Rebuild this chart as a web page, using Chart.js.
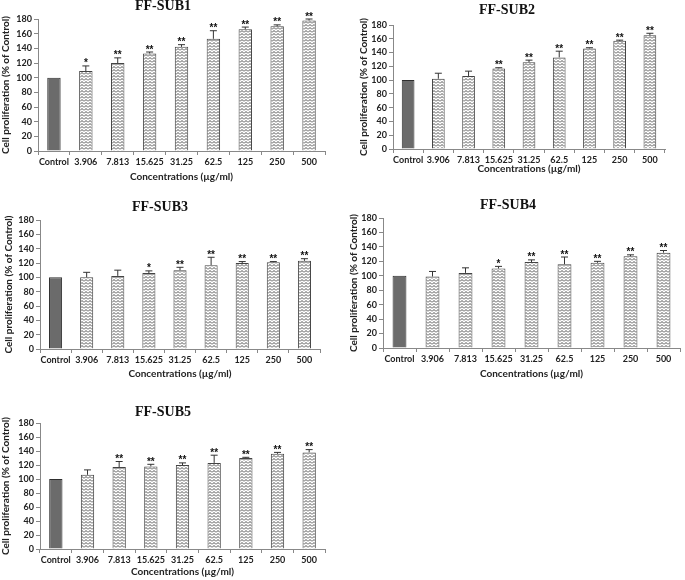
<!DOCTYPE html>
<html>
<head>
<meta charset="utf-8">
<script src="https://cdn.jsdelivr.net/npm/chart.js@4.4.1/dist/chart.umd.min.js"></script>
<style>
  body { margin: 0; background: #fff; width: 685px; height: 580px; position: relative; overflow: hidden; }
  canvas { position: absolute; }
</style>
</head>
<body>
<canvas id="sub1"></canvas>
<canvas id="sub2"></canvas>
<canvas id="sub3"></canvas>
<canvas id="sub4"></canvas>
<canvas id="sub5"></canvas>
<script>
const categories = ['Control', '3.906', '7.813', '15.625', '31.25', '62.5', '125', '250', '500'];
const yMax = 180;
const yStep = 20;

const sub1Means = [100, 109, 120, 133, 142, 153, 166, 170, 178];
const sub1Errors = [0, 7, 7, 2, 3, 11, 3, 2, 2];
const sub1Stars = ['', '*', '**', '**', '**', '**', '**', '**', '**'];

const sub2Means = [100, 102, 106, 117, 126, 133, 146, 157, 165];
const sub2Errors = [0, 8, 7, 1, 3, 9, 1, 1, 3];
const sub2Stars = ['', '', '', '**', '**', '**', '**', '**', '**'];

const sub3Means = [100, 100, 102, 106, 110, 117, 120, 121, 123];
const sub3Errors = [0, 7, 8, 3, 4, 11, 2, 1, 3];
const sub3Stars = ['', '', '', '*', '**', '**', '**', '**', '**'];

const sub4Means = [100, 99, 104, 110, 119, 116, 118, 127, 132];
const sub4Errors = [0, 7, 7, 3, 3, 10, 2, 2, 3];
const sub4Stars = ['', '', '', '*', '**', '**', '**', '**', '**'];

const sub5Means = [100, 106, 117, 118, 120, 123, 130, 136, 138];
const sub5Errors = [0, 7, 8, 3, 3, 11, 1, 2, 4];
const sub5Stars = ['', '', '**', '**', '**', '**', '**', '**', '**'];

// zigzag hatch used by the treated bars
function zigzagPattern() {
  const c = document.createElement('canvas');
  c.width = 4;
  c.height = 3;
  const g = c.getContext('2d');
  g.fillStyle = '#fff';
  g.fillRect(0, 0, 4, 3);
  g.strokeStyle = '#4e4e4e';
  g.lineWidth = 1;
  g.beginPath();
  g.moveTo(0, 2.5);
  g.lineTo(2, 0.5);
  g.lineTo(4, 2.5);
  g.stroke();
  return g.createPattern(c, 'repeat');
}

// error caps, significance stars and the serif panel title
const markers = {
  id: 'markers',
  afterDatasetsDraw(chart, args, opts) {
    const ctx = chart.ctx;
    const y = chart.scales.y;
    const values = chart.data.datasets[0].data;
    ctx.save();
    chart.getDatasetMeta(0).data.forEach((bar, i) => {
      const top = y.getPixelForValue(values[i] + opts.errors[i]);
      if (opts.errors[i] > 0) {
        ctx.strokeStyle = '#333';
        ctx.lineWidth = 1;
        ctx.beginPath();
        ctx.moveTo(bar.x, bar.y);
        ctx.lineTo(bar.x, top);
        ctx.moveTo(bar.x - 3.5, top);
        ctx.lineTo(bar.x + 3.5, top);
        ctx.stroke();
      }
      if (opts.stars[i]) {
        ctx.fillStyle = '#111';
        ctx.font = 'bold 10px "Liberation Sans"';
        ctx.textAlign = 'center';
        ctx.textBaseline = 'alphabetic';
        ctx.fillText(opts.stars[i], bar.x, top + 0.5);
      }
    });
    ctx.fillStyle = '#111';
    ctx.font = 'bold 14px "Liberation Serif"';
    ctx.textAlign = 'center';
    ctx.textBaseline = 'middle';
    ctx.fillText(opts.title, opts.titleAt[0], opts.titleAt[1]);
    ctx.restore();
  }
};

const panels = [
  { id: 'sub1', title: 'FF-SUB1', means: sub1Means, errors: sub1Errors, stars: sub1Stars,
    box: [0, 0, 335, 185], pad: { left: 0, top: 19, right: 10, bottom: 0 }, yWidth: 38, xHeight: 34, titleAt: [163, 6] },
  { id: 'sub2', title: 'FF-SUB2', means: sub2Means, errors: sub2Errors, stars: sub2Stars,
    box: [340, 0, 345, 177], pad: { left: 18, top: 25, right: 20, bottom: 0 }, yWidth: 35, xHeight: 28, titleAt: [167, 10] },
  { id: 'sub3', title: 'FF-SUB3', means: sub3Means, errors: sub3Errors, stars: sub3Stars,
    box: [0, 195, 335, 187], pad: { left: 3, top: 25, right: 15, bottom: 0 }, yWidth: 37, xHeight: 33, titleAt: [160, 12] },
  { id: 'sub4', title: 'FF-SUB4', means: sub4Means, errors: sub4Errors, stars: sub4Stars,
    box: [340, 195, 345, 187], pad: { left: 8, top: 23, right: 5, bottom: 0 }, yWidth: 35, xHeight: 34, titleAt: [168, 10] },
  { id: 'sub5', title: 'FF-SUB5', means: sub5Means, errors: sub5Errors, stars: sub5Stars,
    box: [0, 395, 335, 185], pad: { left: 0, top: 28, right: 10, bottom: 0 }, yWidth: 40, xHeight: 31, titleAt: [163, 17] }
];

const tickFont = { family: 'Lato', weight: 'bold', size: 9 };
const axisTitleFont = { family: 'Lato', weight: 'bold', size: 10 };

panels.forEach(p => {
  const canvas = document.getElementById(p.id);
  canvas.style.left = p.box[0] + 'px';
  canvas.style.top = p.box[1] + 'px';
  canvas.width = p.box[2];
  canvas.height = p.box[3];
  const hatch = zigzagPattern();

  new Chart(canvas, {
    type: 'bar',
    data: {
      labels: categories,
      datasets: [{
        data: p.means,
        backgroundColor: p.means.map((v, i) => i === 0 ? '#6b6b6b' : hatch),
        borderColor: p.means.map((v, i) => i === 0 ? '#2e2e2e' : '#444'),
        borderWidth: 1,
        barPercentage: 0.42,
        categoryPercentage: 1
      }]
    },
    options: {
      responsive: false,
      animation: false,
      devicePixelRatio: 1,
      layout: { padding: p.pad },
      plugins: {
        legend: { display: false },
        tooltip: { enabled: false },
        markers: { errors: p.errors, stars: p.stars, title: p.title, titleAt: p.titleAt }
      },
      scales: {
        x: {
          offset: true,
          grid: { drawOnChartArea: false, tickLength: 4, color: '#888' },
          border: { color: '#888' },
          ticks: { color: '#222', font: tickFont, maxRotation: 0, autoSkip: false, padding: 2 },
          title: { display: true, text: 'Concentrations (µg/ml)', color: '#222', font: axisTitleFont, padding: { top: 0, bottom: 2 } },
          afterFit(scale) { scale.height = p.xHeight; }
        },
        y: {
          min: 0,
          max: yMax,
          grid: { drawOnChartArea: false, tickLength: 4, color: '#888' },
          border: { color: '#888' },
          ticks: { stepSize: yStep, color: '#222', font: tickFont, padding: 2, autoSkip: false },
          title: { display: true, text: 'Cell proliferation (% of Control)', color: '#222', font: axisTitleFont, padding: { top: 0, bottom: 2 } },
          afterFit(scale) { scale.width = p.yWidth; }
        }
      }
    },
    plugins: [markers]
  });
});
</script>
</body>
</html>
